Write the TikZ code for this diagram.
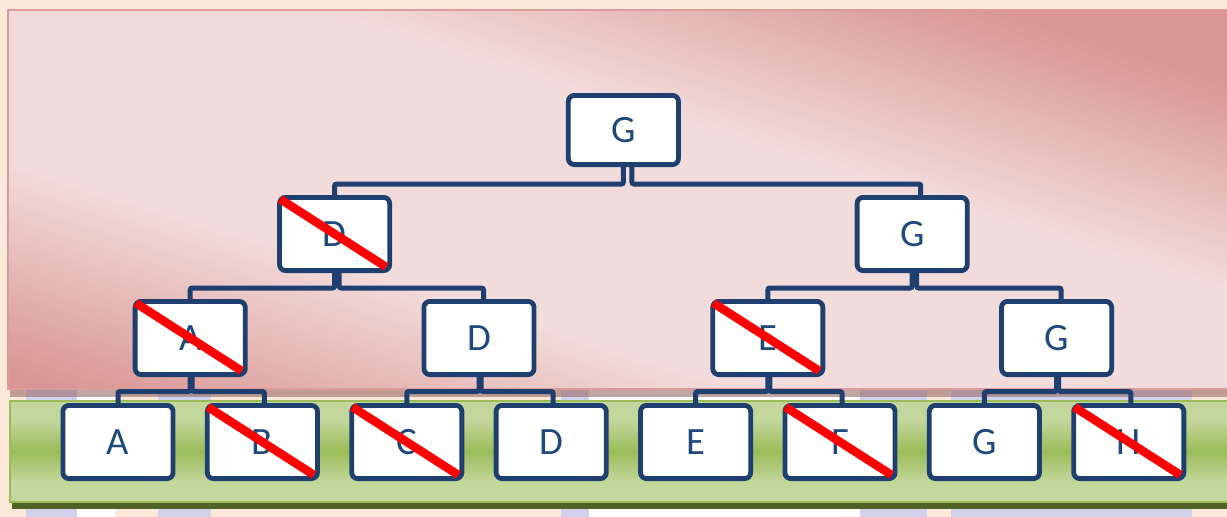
\documentclass[tikz,border=0pt]{standalone}
\usepackage{fontspec}
\setmainfont{Carlito}
\usetikzlibrary{calc}
\definecolor{peach}{HTML}{FDE9D9}
\definecolor{pinkdark}{HTML}{D99694}
\definecolor{pinklight}{HTML}{F2DCDB}
\definecolor{pinkline}{HTML}{DC9C9A}
\definecolor{greenlight}{HTML}{C3D69B}
\definecolor{greenmid}{HTML}{9BBB59}
\definecolor{greenline}{HTML}{9BBB59}
\definecolor{greenshadow}{HTML}{4F6228}
\definecolor{lav}{HTML}{CFD2EA}
\definecolor{navy}{HTML}{1F3F6E}
\definecolor{navytext}{HTML}{1F497D}
\definecolor{strikered}{HTML}{FF0000}
\pgfdeclarelayer{bg}
\pgfdeclarelayer{conn}
\pgfsetlayers{bg,conn,main}
\begin{document}
\begin{tikzpicture}[x=0.75pt,y=-0.75pt,
  box/.style={draw=navy, line width=3.6pt, fill=white, rounded corners=4.5pt,
    minimum width=82.6pt, minimum height=54.9pt, inner sep=0pt,
    text=navytext, font=\fontsize{29}{34}\selectfont},
  rootbox/.style={box, minimum height=51.9pt},
  conn/.style={draw=navy, line width=3.75pt, rounded corners=1.5pt},
  strike/.style={draw=strikered, line width=6.4pt},
  panelline/.style={line width=1.5pt}]
\useasboundingbox (0,0) rectangle (1227,517);

% ---------- background ----------
\begin{pgfonlayer}{bg}
\fill[peach] (0,0) rectangle (1227,517);
\fill[white] (77,389) rectangle (115,517);
\fill[white] (589,389) rectangle (860,517);
\fill[lav] (26,389) rectangle (77,517);
\fill[lav] (158,389) rectangle (211,517);
\fill[lav] (561,389) rectangle (589,517);
\fill[lav] (860,389) rectangle (927,517);
\fill[lav] (951,389) rectangle (1192,517);
% pink panel shadow
\fill[pinkdark!70!black, opacity=0.6] (10,389) rectangle (1227,397);
% pink panel: diagonal gradient drawn as strips
\begin{scope}
  \clip (8,10) rectangle (1240,389);
  \foreach \i in {0,...,199}{
    \pgfmathsetmacro\v{-1+\i*0.01+0.005}
    \pgfmathsetmacro\w{\v>0 ? (\v-0.25)/0.55 : (-\v-0.4)/0.55}
    \pgfmathtruncatemacro\f{round(100*min(1,max(0,\w)))}
    \fill[pinkdark!\f!pinklight]
      ({8+(\v-0.005)*1232},10) -- ({8+(\v+0.011)*1232},10) --
      ({8+(1+\v+0.011)*1232},389) -- ({8+(1+\v-0.005)*1232},389) -- cycle;
  }
\end{scope}
\draw[pinkline, panelline] (1240,10) -- (8,10) -- (8,389) -- (1240,389);
% green panel shadow
\fill[greenshadow] (12,502) rectangle (1227,509);
% green panel: vertical gradient drawn as strips
\foreach \i in {0,...,100}{
  \pgfmathsetmacro\t{(\i+0.5)/101}
  \pgfmathtruncatemacro\g{round(100*min(1,max(0,1-abs(\t-0.5)/0.3)))}
  \fill[greenmid!\g!greenlight] (10,{401+\i}) rectangle (1240,{402.6+\i});
}
\draw[greenline, panelline] (1240,401) -- (10,401) -- (10,502) -- (1240,502);
\end{pgfonlayer}

% ---------- nodes ----------
\node[rootbox] (r) at (623.4,130) {G};
\node[box] (d2) at (334.6,234) {D};
\node[box] (g2) at (912.2,234) {G};
\node[box] (a3) at (190.2,338) {A};
\node[box] (d3) at (479,338) {D};
\node[box] (e3) at (767.8,338) {E};
\node[box] (g3) at (1056.6,338) {G};
\node[box] (a4) at (118,442) {A};
\node[box] (b4) at (262.4,442) {B};
\node[box] (c4) at (406.8,442) {C};
\node[box] (d4) at (551.2,442) {D};
\node[box] (e4) at (695.6,442) {E};
\node[box] (f4) at (840,442) {F};
\node[box] (g4) at (984.4,442) {G};
\node[box] (h4) at (1128.8,442) {H};

% ---------- connectors ----------
\begin{pgfonlayer}{conn}
\draw[conn] (r.south) -- ++(0,17) -| (d2.north);
\draw[conn] ([xshift=6.4pt]r.south) -- ++(0,17) -| ([xshift=6.4pt]g2.north);
\foreach \p/\l/\rr in {d2/a3/d3, g2/e3/g3}{
  \draw[conn] (\p.south) -- ++(0,15) -| (\l.north);
  \draw[conn] ([xshift=3.4pt]\p.south) -- ++(0,15) -| ([xshift=3.4pt]\rr.north);
}
\foreach \p/\l/\rr in {a3/a4/b4, d3/c4/d4, e3/e4/f4, g3/g4/h4}{
  \draw[conn] (\p.south) -- ++(0,14.5) -| (\l.north);
  \draw[conn] ([xshift=1.5pt]\p.south) -- ++(0,14.5) -| ([xshift=1.5pt]\rr.north);
}
\end{pgfonlayer}

% ---------- strikes ----------
\foreach \n in {d2,a3,e3,b4,c4,f4,h4}{
  \draw[strike] ([shift={(3,4)}]\n.north west) -- ++(106,68);
}
\end{tikzpicture}
\end{document}
